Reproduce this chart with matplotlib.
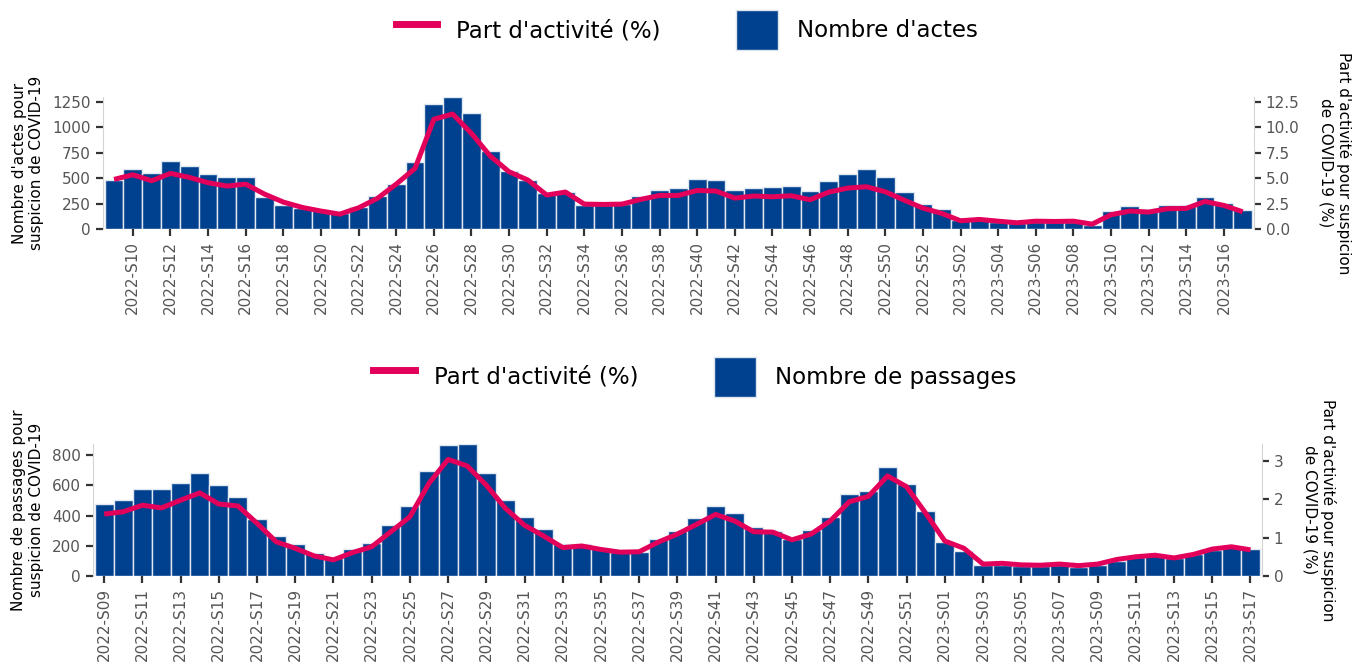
import matplotlib.pyplot as plt
from matplotlib.lines import Line2D
from matplotlib.patches import Patch
import numpy as np

semaines = [f"2022-S{w:02d}" for w in range(9, 53)] + [f"2023-S{w:02d}" for w in range(1, 18)]

nb_actes = [480, 585, 553, 667, 618, 540, 513, 513, 317, 235,
            210, 185, 154, 219, 327, 441, 660, 1226, 1292, 1141,
            762, 566, 481, 350, 360, 232, 235, 245, 327, 386,
            402, 490, 481, 386, 399, 412, 422, 376, 471, 540,
            585, 513, 366, 242, 196, 90, 90, 72, 62, 72,
            72, 72, 40, 173, 222, 200, 232, 232, 317, 252, 186]
part_actes = [4.87, 5.33, 4.74, 5.46, 5.07, 4.55, 4.22, 4.41, 3.43, 2.65,
              2.13, 1.77, 1.47, 2.09, 3.01, 4.41, 5.95, 10.76, 11.28, 9.38,
              7.16, 5.62, 4.81, 3.34, 3.63, 2.45, 2.42, 2.45, 2.91, 3.30,
              3.30, 3.79, 3.73, 3.04, 3.24, 3.17, 3.27, 2.88, 3.63, 4.02,
              4.15, 3.66, 2.84, 2.06, 1.54, 0.82, 0.95, 0.78, 0.62, 0.78,
              0.75, 0.78, 0.49, 1.41, 1.77, 1.67, 2.00, 2.03, 2.71, 2.32, 1.70]

nb_passages = [473, 501, 576, 576, 618, 679, 600, 523, 380, 264,
               215, 149, 116, 178, 220, 338, 462, 697, 866, 870,
               679, 501, 391, 308, 211, 211, 182, 160, 160, 244,
               301, 387, 466, 415, 321, 295, 248, 305, 391, 541,
               563, 721, 611, 433, 224, 165, 73, 73, 66, 66,
               73, 62, 73, 101, 127, 136, 116, 145, 171, 193, 178]
part_passages = [1.61, 1.67, 1.84, 1.77, 1.97, 2.16, 1.87, 1.82, 1.37, 0.89,
                 0.72, 0.52, 0.42, 0.61, 0.76, 1.15, 1.54, 2.41, 3.03, 2.86,
                 2.36, 1.76, 1.32, 1.04, 0.74, 0.78, 0.69, 0.62, 0.63, 0.88,
                 1.09, 1.34, 1.60, 1.43, 1.15, 1.14, 0.94, 1.09, 1.43, 1.93,
                 2.07, 2.60, 2.32, 1.63, 0.91, 0.72, 0.31, 0.33, 0.29, 0.28,
                 0.31, 0.27, 0.31, 0.43, 0.50, 0.54, 0.47, 0.56, 0.70, 0.76, 0.68]

BLEU = "#00418f"
ROSE = "#e3005b"
GRIS = "#555555"


def panneau(fig, rect, valeurs, parts, ylim, ylim2, yticks, yticks2, ylabel,
            debut_ticks, label_barres, legende_pos):
    ax = fig.add_axes(rect)
    x = np.arange(len(semaines))
    ax.bar(x, valeurs, width=1.0, color=BLEU, edgecolor="#e2e8f0", linewidth=1.0)
    ax.set_xlim(-0.6, len(semaines) - 0.4)
    ax.set_ylim(*ylim)
    ax.set_yticks(yticks)
    ax.set_xticks(x[debut_ticks::2])
    ax.set_xticklabels(semaines[debut_ticks::2], rotation=90)
    ax.set_ylabel(ylabel, fontsize=11, labelpad=6)

    ax2 = ax.twinx()
    ax2.plot(x, parts, color=ROSE, linewidth=3.6, solid_capstyle="butt")
    ax2.set_ylim(*ylim2)
    ax2.set_yticks(yticks2)
    ax2.set_ylabel("Part d'activité pour suspicion\nde COVID-19 (%)", fontsize=11,
                   rotation=270, labelpad=38)

    for a in (ax, ax2):
        for s in ("top", "bottom"):
            a.spines[s].set_visible(False)
        a.spines["left"].set_color("#d4d4d4")
        a.spines["right"].set_color("#d4d4d4")
        a.tick_params(labelsize=11, labelcolor=GRIS, color="#333333",
                      width=1.6, length=5)
    ax.spines["right"].set_visible(False)
    ax2.spines["left"].set_visible(False)

    poignees = [Line2D([0], [0], color=ROSE, linewidth=5),
                Patch(facecolor=BLEU, edgecolor="#dde4ee")]
    fig.legend(poignees, ["Part d'activité (%)", label_barres], loc="center",
               bbox_to_anchor=legende_pos, ncol=2, frameon=False, fontsize=16.5,
               handlelength=1.8, handleheight=2.3, handletextpad=0.85,
               columnspacing=3.3)
    return ax, ax2


fig = plt.figure(figsize=(13.52, 6.68), dpi=100)

panneau(fig, [0.076, 0.657, 0.8515, 0.198], nb_actes, part_actes,
        (0, 1296), (0, 12.96), [0, 250, 500, 750, 1000, 1250],
        [0, 2.5, 5, 7.5, 10, 12.5],
        "Nombre d'actes pour\nsuspicion de COVID-19", 1, "Nombre d'actes",
        (0.508, 0.955))

panneau(fig, [0.0686, 0.1377, 0.8648, 0.1976], nb_passages, part_passages,
        (0, 873), (0, 3.43), [0, 200, 400, 600, 800], [0, 1, 2, 3],
        "Nombre de passages pour\nsuspicion de COVID-19", 0, "Nombre de passages",
        (0.514, 0.436))

fig.savefig("out.png", dpi=100)
